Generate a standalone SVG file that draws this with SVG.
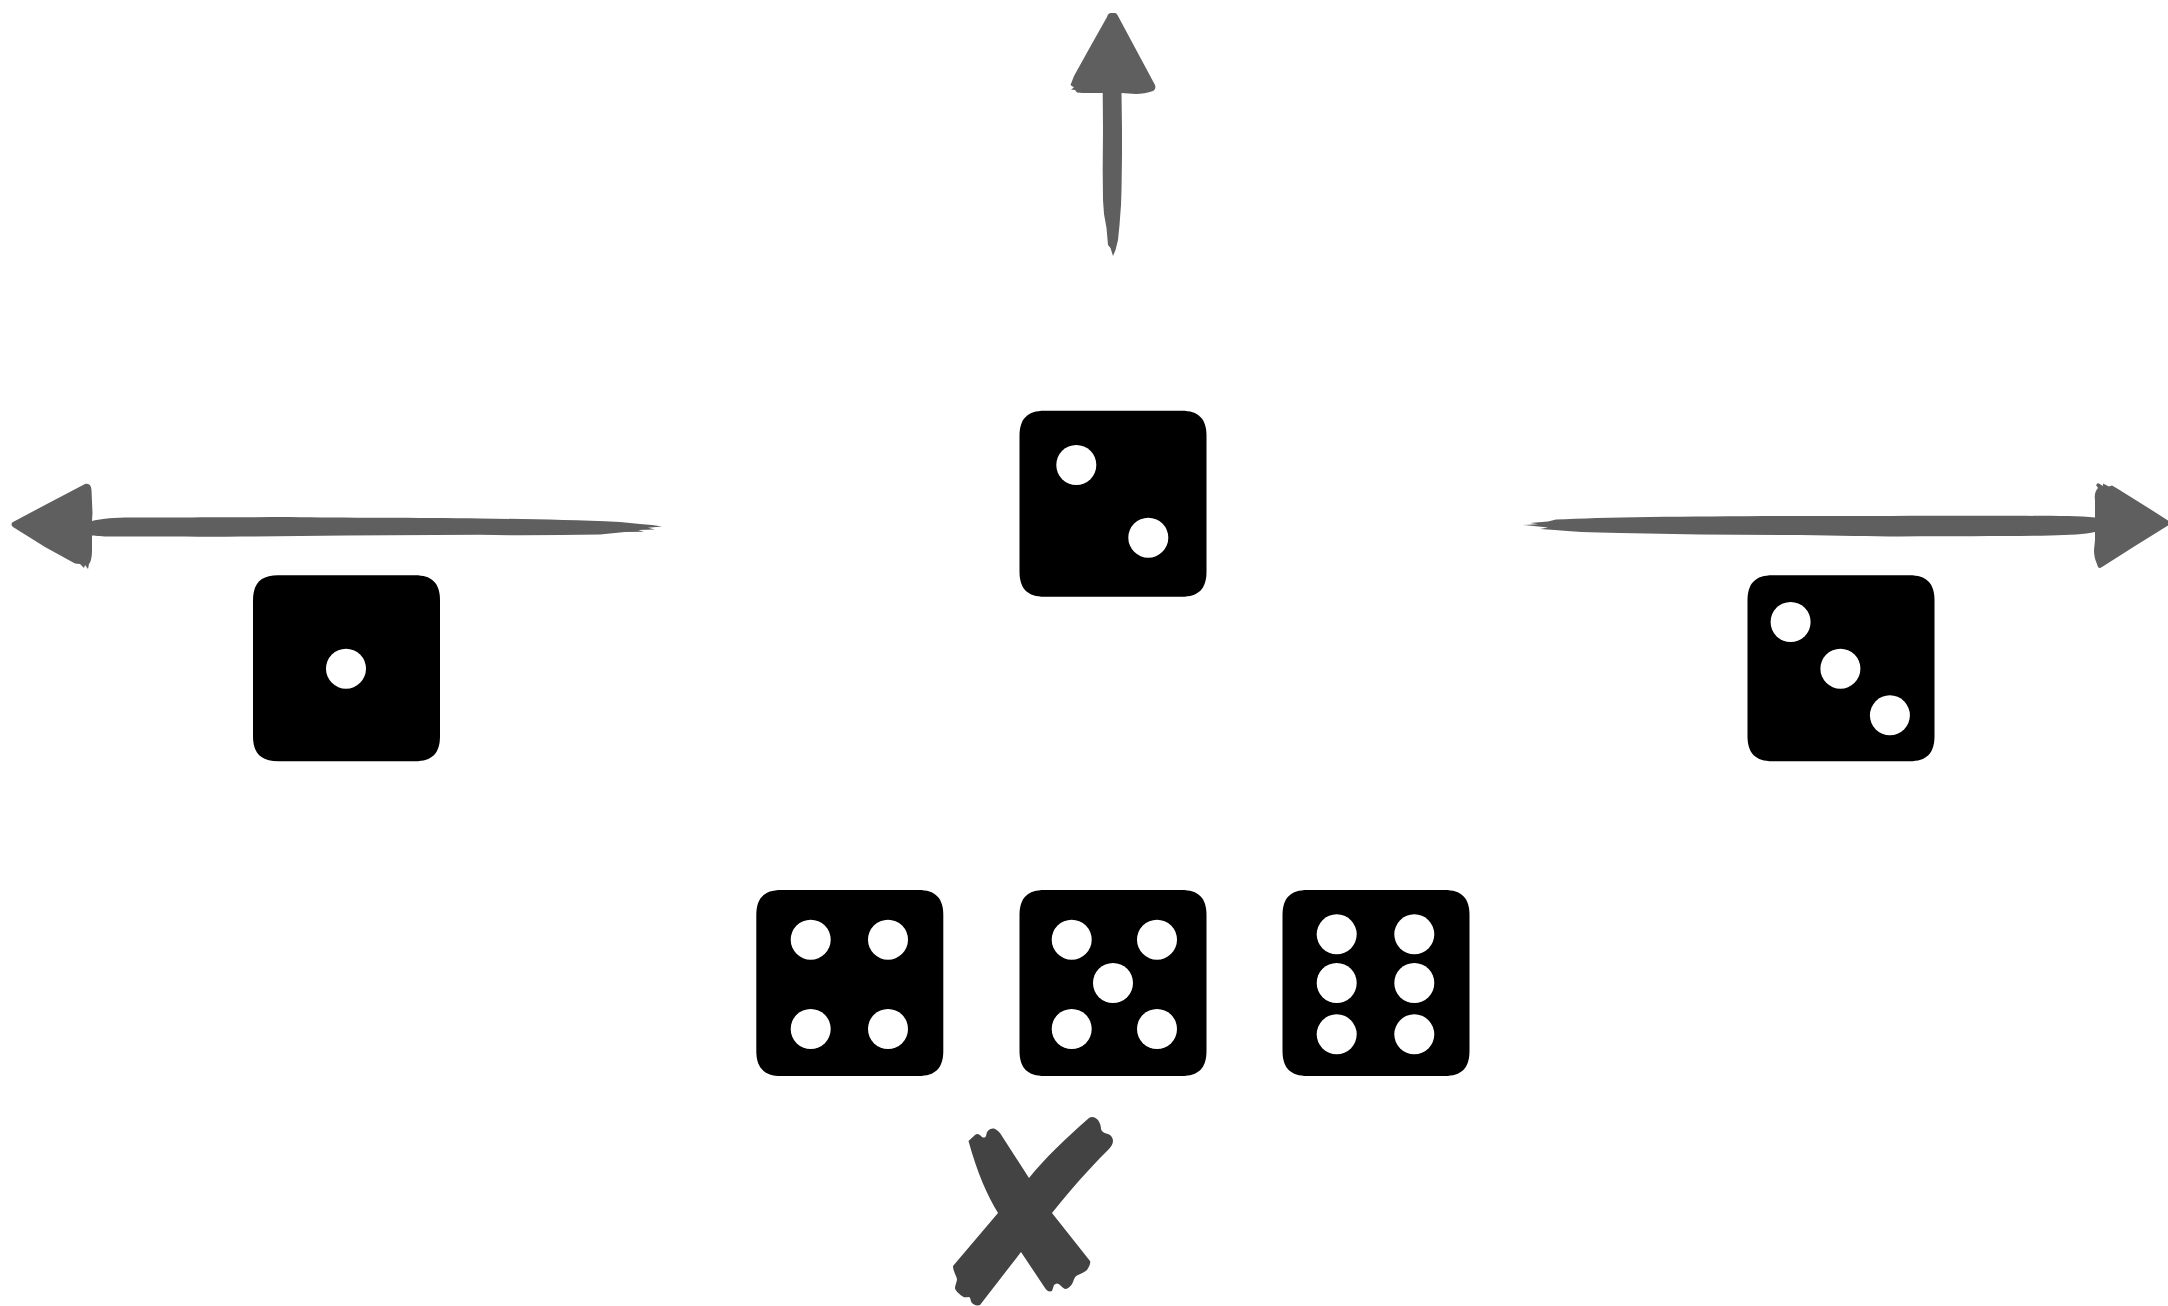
<svg xmlns="http://www.w3.org/2000/svg" width="2168" height="1306" viewBox="0 0 2168 1306">
<style>
.die{fill:#000}
.pip{fill:#fff}
.arrow{fill:#5f5f5f;stroke:none}
.cross{fill:#434343}
</style>
<defs>
<path id="dieBody" class="die" d="M25 0H162C179 0 187 8 187 25V161C187 178 179 186 162 186H25C8 186 0 178 0 161V25C0 8 8 0 25 0Z"/>
</defs>
<rect width="2168" height="1306" fill="#fff"/>
<g id="connectors">
<g id="arrow-up">
<path class="arrow" d="M1111 13H1115C1116 13 1117 14 1118 16L1155 85C1156 88 1155 90 1153 91C1148 93 1141 94 1136 94C1131 94 1126 93 1121.500 93L1122 130L1122 155L1121.500 190L1121 205L1119.500 225L1118 240L1115.500 250L1113 256L1110.500 248L1108 245L1106.500 228L1104 214L1103 200L1102.700 170L1103 130L1102.700 93L1083 93L1077 92.500L1075 90L1071 89.500L1074 87.500L1070.500 85L1074 76L1089 49L1107 17C1108 14 1109 13 1111 13Z"/>
</g>
<g id="arrow-left">
<path class="arrow" d="M85 484C89 483 91 485 91.500 490L92.500 513L92 521C100 519 108 518 125 517.500C165 517.200 225 517.500 290 517C340 518 420 517.500 480 518.500C530 519 570 520 620 522L640 524L652 525L662 526.500L648 527.800L655 529.500L638 530L644 531.800L625 532L600 534.500C560 535 520 536 480 534.800C420 535.500 360 535 300 536C230 537 160 536.500 110 536.500C103 536.500 96 536 92 535.500L92 550C92 556 91 562 89 564L88 569L85 565L84 568L80 564L75 563.500L45 547L13 527C11 525 11 523 13 522L45 505Z"/>
</g>
<g id="arrow-right">
<path class="arrow" d="M2098 483L2103 486L2103 483.500L2109 486.500L2112 485.500L2118 489L2150 509L2168 520.500V525.500L2135 546L2102 567C2099 569 2098 568 2097 564C2095 560 2094 555 2094 550L2095 540L2095 532C2085 534.500 2070 535 2050 535.500C2010 536.500 1960 536 1900 536.500C1870 536.500 1840 535.500 1800 535C1740 535 1680 534.500 1620 533C1590 532.500 1570 531.500 1555 530L1540 529L1548 527.500L1523 525L1538 524.300L1530 523L1548 521.500L1556 519.500C1580 518.500 1610 517.500 1650 517C1700 516.500 1760 516 1820 516C1880 516 1950 515.500 2000 515.800C2040 516 2075 515.500 2095 517.500L2095 500C2094 494 2096 490 2098 488L2096 485Z"/>
</g>
</g>
<g id="die-1"><use href="#dieBody" x="253" y="575.300"/><circle class="pip" cx="346" cy="668.700" r="20"/></g>
<g id="die-2"><use href="#dieBody" x="1019.500" y="410.700"/><circle class="pip" cx="1076.300" cy="465" r="20"/><circle class="pip" cx="1148.300" cy="537.700" r="20"/></g>
<g id="die-3"><use href="#dieBody" x="1747.500" y="575.300"/><circle class="pip" cx="1790.600" cy="622" r="20"/><circle class="pip" cx="1840.400" cy="668.700" r="20"/><circle class="pip" cx="1889.900" cy="715.300" r="20"/></g>
<g id="die-4"><use href="#dieBody" x="756.300" y="890"/><circle class="pip" cx="810.700" cy="939.700" r="20"/><circle class="pip" cx="888" cy="939.700" r="20"/><circle class="pip" cx="810.700" cy="1029" r="20"/><circle class="pip" cx="888" cy="1029" r="20"/></g>
<g id="die-5"><use href="#dieBody" x="1019.500" y="890"/><circle class="pip" cx="1071.700" cy="939.700" r="20"/><circle class="pip" cx="1157" cy="939.700" r="20"/><circle class="pip" cx="1113" cy="983" r="20"/><circle class="pip" cx="1071.700" cy="1029" r="20"/><circle class="pip" cx="1157" cy="1029" r="20"/></g>
<g id="die-6"><use href="#dieBody" x="1282.500" y="890"/><circle class="pip" cx="1336.700" cy="934.300" r="20"/><circle class="pip" cx="1414.300" cy="934.300" r="20"/><circle class="pip" cx="1336.700" cy="983" r="20"/><circle class="pip" cx="1414.300" cy="983" r="20"/><circle class="pip" cx="1336.700" cy="1034.300" r="20"/><circle class="pip" cx="1414.300" cy="1034.300" r="20"/></g>
<g id="cross">
<path class="cross" d="M968.500 1141L975 1135C977 1133 979 1134 981 1136C983 1138 985 1138 986 1136L987 1132C989 1129 992 1128 994 1128.500C996 1129 998 1131 1000 1133L1029 1178C1045 1158 1065 1139 1089 1118C1092 1116 1095 1117 1098 1120C1100 1123 1101 1126 1101 1129C1102 1132 1104 1133 1108 1134C1111 1135 1113 1138 1113 1141C1113 1144 1111 1147 1107 1151C1088 1170 1072 1188 1052 1213L1090 1261C1091 1263 1089 1267 1087 1270C1085 1272 1082 1273 1078 1275C1075 1276 1074 1279 1073 1282C1072 1285 1069 1288 1066 1289C1064 1289 1062 1287 1060 1285C1058 1283 1056 1283 1054 1285L1052 1291C1049 1292 1047 1291 1045 1288L1021 1252L980 1305C977 1306 974 1305 972 1303C970 1300 971 1298 969 1297C966 1297 964 1298 962 1296C958 1293 955 1290 955 1288C955 1285 957 1282 957 1279C956 1275 953 1271 953 1266L998 1213C987 1195 977 1172 968.500 1141Z"/>
</g>
</svg>
